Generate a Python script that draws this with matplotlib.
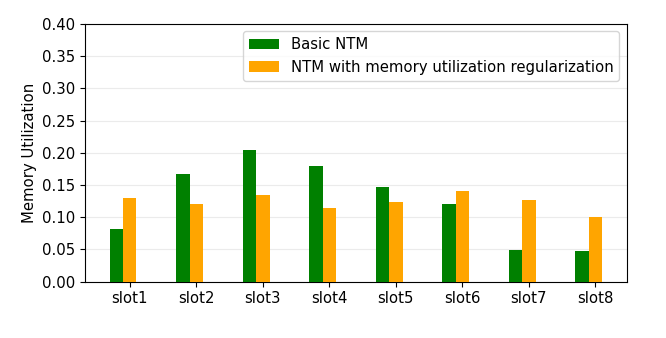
import numpy as np
import matplotlib
matplotlib.use("Agg")
import matplotlib.pyplot as plt

slots = ["slot1", "slot2", "slot3", "slot4", "slot5", "slot6", "slot7", "slot8"]
basic_ntm = [0.081, 0.167, 0.205, 0.180, 0.147, 0.121, 0.049, 0.047]
ntm_reg = [0.130, 0.121, 0.135, 0.115, 0.124, 0.141, 0.127, 0.101]

plt.rcParams["font.size"] = 10.7

x = np.arange(len(slots))
width = 0.2

fig = plt.figure(figsize=(6.66, 3.38), dpi=100)
ax = fig.add_axes([0.128, 0.167, 0.813, 0.762])

# orange bars sit on the tick, green ones just left of them
ax.bar(x - width, basic_ntm, width, color="green", label="Basic NTM", zorder=3)
ax.bar(x, ntm_reg, width, color="orange",
       label="NTM with memory utilization regularization", zorder=3)

ax.set_ylim(0, 0.4)
ax.set_yticks(np.arange(0, 0.41, 0.05))
ax.set_xticks(x)
ax.set_xticklabels(slots)
ax.yaxis.grid(True, color="#ebebeb", linewidth=0.8, zorder=0)
ax.set_ylabel("Memory Utilization")
ax.legend(loc="upper right")

fig.savefig("out.png", dpi=100)
